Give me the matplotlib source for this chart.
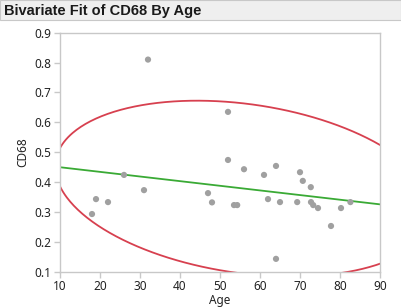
import numpy as np
import matplotlib
matplotlib.use("Agg")
import matplotlib.pyplot as plt
from matplotlib.patches import Rectangle

# Data
age = [32, 18, 19, 22, 26, 31, 52, 52, 56, 47, 48, 53.5, 54.3, 61, 64, 62, 65,
       64, 69.3, 70, 70.7, 72.7, 72.75, 73.3, 74.5, 77.75, 80.25, 82.6]
cd68 = [0.81, 0.293, 0.343, 0.333, 0.424, 0.373, 0.635, 0.474, 0.443, 0.363,
        0.332, 0.323, 0.323, 0.424, 0.454, 0.343, 0.333, 0.143, 0.333, 0.433,
        0.404, 0.383, 0.333, 0.323, 0.313, 0.253, 0.313, 0.333]
x_ticks = [10, 20, 30, 40, 50, 60, 70, 80, 90]
y_ticks = [0.1, 0.2, 0.3, 0.4, 0.5, 0.6, 0.7, 0.8, 0.9]
title = "Bivariate Fit of CD68 By Age"
x_label = "Age"
y_label = "CD68"
ellipse_level = 0.95

plt.rcParams['font.family'] = ['Noto Sans', 'DejaVu Sans']

x = np.array(age, dtype=float)
y = np.array(cd68, dtype=float)
n = len(x)

fig = plt.figure(figsize=(4.01, 3.07), dpi=100)

# title bar
fig.patches.append(Rectangle((0.0, 1 - 20 / 307), 1.0, 20 / 307, transform=fig.transFigure,
                             facecolor="#efefef", edgecolor="#c8c8c8", linewidth=0.8))
fig.text(4 / 401, 1 - 10.5 / 307, title, fontsize=10.5, fontweight="bold",
         family=["Liberation Sans", "DejaVu Sans"],
         va="center", ha="left", color="#1a1a1a")

ax = fig.add_axes([60 / 401, 1 - 271.7 / 307, 320 / 401, 239 / 307])
ax.set_xlim(10, 90)
ax.set_ylim(0.1, 0.9)

# points
ax.scatter(x, y, s=20, color="#a0a0a0", edgecolors="none", zorder=3)

# linear fit
b, a = np.polyfit(x, y, 1)
xx = np.linspace(10, 90, 200)
ax.plot(xx, a + b * xx, color="#3aaa35", lw=1.3, zorder=2)

# bivariate normal density ellipse (chi-square, 2 df)
c = -2 * np.log(1 - ellipse_level)
S = np.cov(np.vstack([x, y]))
L = np.linalg.cholesky(S)
t = np.linspace(0, 2 * np.pi, 400)
circ = np.vstack([np.cos(t), np.sin(t)]) * np.sqrt(c)
el = L @ circ
ax.plot(x.mean() + el[0], y.mean() + el[1], color="#d7404f", lw=1.3, zorder=2)

ax.set_xticks(x_ticks)
ax.set_yticks(y_ticks)
ax.set_xticklabels([str(v) for v in x_ticks])
ax.set_yticklabels([f"{v:.1f}" for v in y_ticks])
for s in ax.spines.values():
    s.set_color("#c8c8c8")
    s.set_linewidth(1.0)
ax.tick_params(direction="out", length=4, width=1, color="#c8c8c8",
               labelsize=8.5, labelcolor="#222222", pad=2)
ax.set_xlabel(x_label, fontsize=8.5, color="#222222", labelpad=1)
ax.set_ylabel(y_label, fontsize=8.5, color="#222222", labelpad=4)

fig.savefig("out.png", dpi=100)
